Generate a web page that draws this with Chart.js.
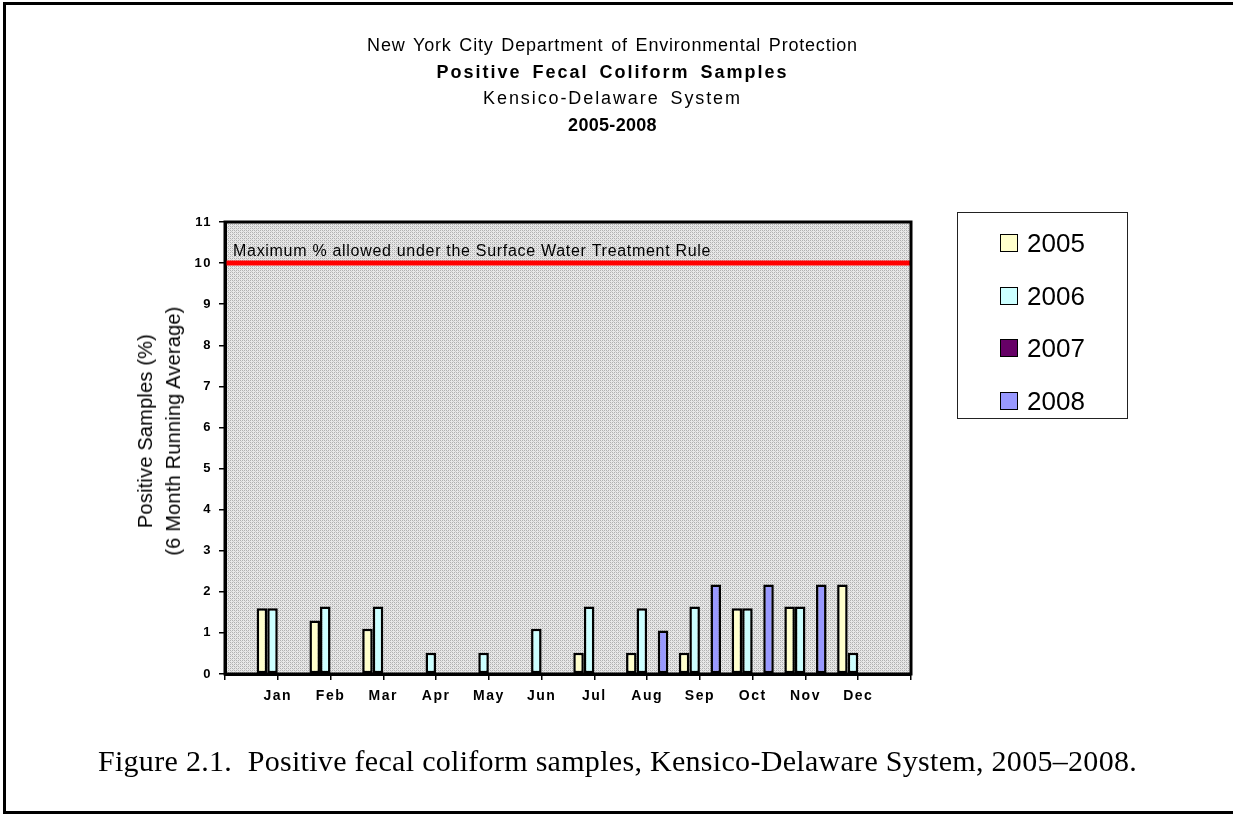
<!DOCTYPE html>
<html>
<head>
<meta charset="utf-8">
<script src="https://cdn.jsdelivr.net/npm/chart.js@4"></script>
<style>
  html, body { margin:0; padding:0; background:#fff; }
  body { width:1233px; height:814px; position:relative; overflow:hidden; font-family:"Liberation Sans", Arial, sans-serif; }
  #frame { position:absolute; left:3px; top:2px; width:1240px; height:806px; border-left:3px solid #000; border-top:3px solid #000; border-bottom:3px solid #000; }
  #c { position:absolute; left:0; top:0; }
  .t { position:absolute; left:0; width:1225px; text-align:center; font-size:18px; color:#000; white-space:nowrap; }
  .b { font-weight:bold; }
  #ytitle { position:absolute; left:159px; top:431px; transform:translate(-50%,-50%) rotate(-90deg); font-size:20px; line-height:28px; text-align:center; white-space:nowrap; letter-spacing:0.2px; }
  #legend { position:absolute; left:957px; top:212px; width:169px; height:205px; border:1px solid #222; }
  .li { position:absolute; left:42px; height:30px; font-size:26px; line-height:30px; }
  .sw { position:absolute; left:0; top:6px; width:16px; height:16px; border:1.5px solid #000; }
  .li span.tx { position:absolute; left:27px; top:0; }
  #caption { position:absolute; left:0; width:1235px; top:744px; text-align:center; font-family:"Liberation Serif","Times New Roman",serif; font-size:30px; letter-spacing:0.3px; white-space:nowrap; }
</style>
</head>
<body>
<div id="frame"></div>
<canvas id="c" width="1233" height="814"></canvas>
<div class="t" style="top:35px; letter-spacing:0.8px; word-spacing:2px;">New York City Department of Environmental Protection</div>
<div class="t b" style="top:62px; letter-spacing:2px; word-spacing:4px;">Positive Fecal Coliform Samples</div>
<div class="t" style="top:88px; letter-spacing:1.9px; word-spacing:4px;">Kensico-Delaware System</div>
<div class="t b" style="top:115px; letter-spacing:0.3px;">2005-2008</div>
<div id="ytitle">Positive Samples (%)<br>(6 Month Running Average)</div>
<div id="legend"></div>
<div id="caption">Figure 2.1.&nbsp; Positive fecal coliform samples, Kensico-Delaware System, 2005–2008.</div>
<script>
// ---- data ----
const months = ['Jan','Feb','Mar','Apr','May','Jun','Jul','Aug','Sep','Oct','Nov','Dec'];
const seriesNames = ['2005','2006','2007','2008'];
const values2005 = [1.6, 1.3, 1.1, null, null, null, 0.52, 0.52, 0.52, 1.6, 1.64, 2.18];
const values2006 = [1.6, 1.64, 1.64, 0.52, 0.52, 1.1, 1.64, 1.6, 1.64, 1.6, 1.64, 0.52];
const values2007 = [null, null, null, null, null, null, null, null, null, null, null, null];
const values2008 = [null, null, null, null, null, null, null, 1.06, 2.18, 2.18, 2.18, null];
const seriesColors = ['#FFFFCC', '#CCFFFF', '#660066', '#9999FF'];
const limitValue = 10;
const limitLabel = 'Maximum % allowed under the Surface Water Treatment Rule';
const yTicks = [0,1,2,3,4,5,6,7,8,9,10,11];

// category axis padded with empty slots at both ends (bars sit on the tick marks)
const labels = [''].concat(months, ['']);
const pad = arr => [null].concat(arr, [null]);
const seriesValues = [values2005, values2006, values2007, values2008];

// legend (HTML)
const legend = document.getElementById('legend');
seriesNames.forEach((n, i) => {
  const d = document.createElement('div');
  d.className = 'li';
  d.style.top = (15 + i * 52.7) + 'px';
  d.innerHTML = '<span class="sw" style="background:' + seriesColors[i] + '"></span><span class="tx">' + n + '</span>';
  legend.appendChild(d);
});

// dotted plot background pattern
function makePattern(ctx) {
  const p = document.createElement('canvas');
  p.width = 4; p.height = 4;
  const g = p.getContext('2d');
  g.fillStyle = '#e8e8e8'; g.fillRect(0, 0, 4, 4);
  g.fillStyle = '#b0b0b0';
  g.fillRect(0, 0, 1, 1); g.fillRect(2, 2, 1, 1);
  g.fillRect(2, 0, 1, 1); g.fillRect(0, 2, 1, 1);
  g.fillStyle = '#cccccc';
  g.fillRect(1, 1, 1, 1); g.fillRect(3, 3, 1, 1);
  return ctx.createPattern(p, 'repeat');
}

const plotDeco = {
  id: 'plotDeco',
  beforeDraw(chart) {
    const ctx = chart.ctx, a = chart.chartArea;
    ctx.save();
    ctx.fillStyle = makePattern(ctx);
    ctx.fillRect(a.left, a.top, a.right - a.left, a.bottom - a.top);
    ctx.restore();
    ctx.letterSpacing = '1.5px';
  },
  afterDraw(chart) {
    const ctx = chart.ctx, a = chart.chartArea;
    const ys = chart.scales.y;
    ctx.save();
    ctx.letterSpacing = '0.7px';
    ctx.font = '16px "Liberation Sans", Arial, sans-serif';
    ctx.fillStyle = '#000';
    ctx.textBaseline = 'alphabetic';
    ctx.textAlign = 'left';
    ctx.fillText(limitLabel, a.left + 8, ys.getPixelForValue(limitValue) - 7);
    ctx.lineWidth = 3;
    ctx.strokeStyle = '#000';
    ctx.strokeRect(a.left, a.top, a.right - a.left, a.bottom - a.top);
    ctx.restore();
  }
};

const datasets = seriesNames.map((n, i) => ({
  type: 'bar',
  label: n,
  data: pad(seriesValues[i]),
  backgroundColor: seriesColors[i],
  borderColor: '#000',
  borderWidth: 2.5,
  borderSkipped: false,
  categoryPercentage: 0.8,
  barPercentage: 1.0,
  order: 2
}));
datasets.push({
  type: 'line',
  label: 'limit',
  data: labels.map(() => limitValue),
  borderColor: '#FF0000',
  borderWidth: 5,
  pointRadius: 0,
  fill: false,
  order: 1
});

new Chart(document.getElementById('c'), {
  data: { labels: labels, datasets: datasets },
  plugins: [plotDeco],
  options: {
    responsive: false,
    animation: false,
    devicePixelRatio: 1,
    layout: { padding: { left: 0, top: 222, right: 322, bottom: 0 } },
    plugins: { legend: { display: false }, tooltip: { enabled: false }, title: { display: false } },
    scales: {
      x: {
        type: 'category',
        offset: false,
        afterFit: s => { s.height = 140; },
        grid: { offset: false, drawOnChartArea: false, drawTicks: true, tickLength: 6, color: '#000', lineWidth: 1.5 },
        border: { display: true, color: '#000', width: 3 },
        ticks: { autoSkip: false, maxRotation: 0, minRotation: 0, color: '#000', padding: 8,
                 font: { family: '"Liberation Sans", Arial, sans-serif', size: 14, weight: 'bold' } }
      },
      y: {
        min: 0, max: 11,
        afterBuildTicks: s => { s.ticks = yTicks.map(v => ({ value: v })); },
        afterFit: s => { s.width = 225; },
        grid: { drawOnChartArea: false, drawTicks: true, tickLength: 6, color: '#000', lineWidth: 1.5 },
        border: { display: true, color: '#000', width: 3 },
        ticks: { color: '#000', padding: 7,
                 font: { family: '"Liberation Sans", Arial, sans-serif', size: 13, weight: 'bold' } }
      }
    }
  }
});
</script>
</body>
</html>
